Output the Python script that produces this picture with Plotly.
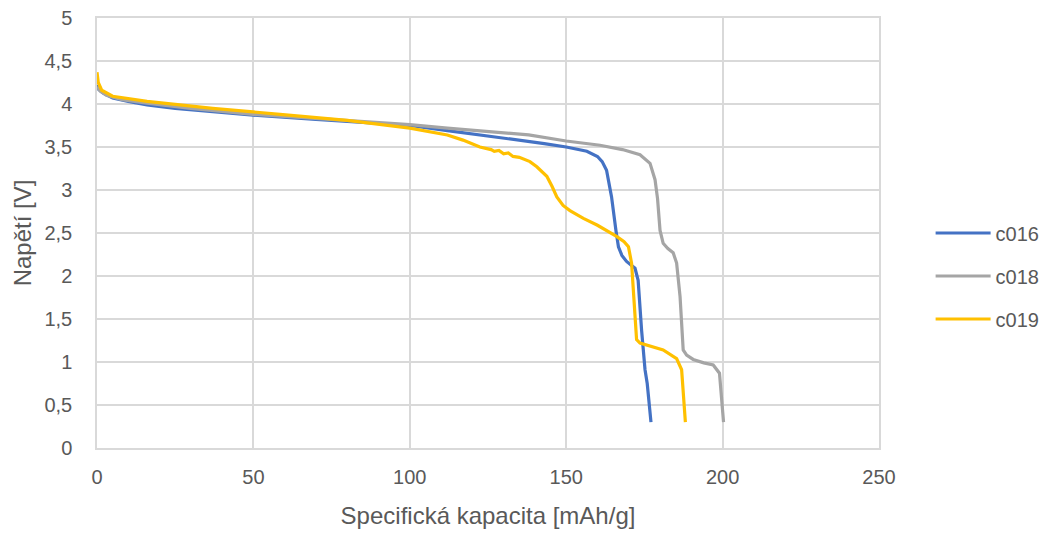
import plotly.graph_objects as go

# c016
c016_x = [0, 0.5, 1.9, 5, 10, 16, 25, 37, 50, 70, 90, 100, 112, 125, 133, 143, 150, 156.6, 160, 161.5,
          162.9, 164.5, 165.9, 166.7, 167.8, 169.3, 172, 173, 174.1, 175.2, 175.9, 177, 177.1]
c016_y = [4.22, 4.17, 4.13, 4.07, 4.03, 3.99, 3.95, 3.91, 3.87, 3.82, 3.77, 3.75, 3.69, 3.63, 3.59, 3.54, 3.50, 3.45, 3.39, 3.33,
          3.23, 2.92, 2.53, 2.34, 2.24, 2.17, 2.09, 1.95, 1.37, 0.91, 0.75, 0.33, 0.30]

# c018
c018_x = [0, 1, 3, 8, 16, 30, 50, 70, 90, 100, 112, 125, 133, 138, 150, 160.8, 168, 173.6, 176.8, 178.4,
          179.2, 180, 181, 182.5, 184.2, 185.3, 186.4, 187.4, 188.5, 190.6, 194, 197, 199, 199.7, 200.2, 200.3]
c018_y = [4.2, 4.15, 4.1, 4.05, 4.01, 3.95, 3.88, 3.83, 3.78, 3.76, 3.72, 3.68, 3.66, 3.64, 3.57, 3.52, 3.47, 3.41, 3.31, 3.12,
          2.9, 2.53, 2.38, 2.32, 2.27, 2.15, 1.76, 1.14, 1.08, 1.03, 0.99, 0.965, 0.87, 0.6, 0.33, 0.30]

# c019
c019_x = [0, 0.4, 1.5, 5, 16, 37, 58.5, 80, 100, 112, 117, 122.4, 126, 127, 128.5, 130, 131.5, 133, 135, 136.5,
          138.4, 140.6, 143.8, 145.5, 147, 149, 151.2, 155.5, 160, 166.1, 168.5, 169.9, 170.9, 172.5, 173.6,
          181, 185.3, 186.9, 188, 188.1]
c019_y = [4.37, 4.25, 4.16, 4.09, 4.03, 3.95, 3.88, 3.81, 3.72, 3.64, 3.58, 3.50, 3.47, 3.45, 3.46, 3.42, 3.43, 3.39, 3.38, 3.36,
          3.33, 3.27, 3.16, 3.04, 2.92, 2.82, 2.76, 2.67, 2.59, 2.46, 2.40, 2.34, 2.15, 1.26, 1.22,
          1.14, 1.04, 0.91, 0.33, 0.30]

series = [
    ("c016", c016_x, c016_y, "#4472C4"),
    ("c018", c018_x, c018_y, "#A5A5A5"),
    ("c019", c019_x, c019_y, "#FFC000"),
]

FONT = "Liberation Sans"
TXT = "#595959"
fig = go.Figure()
for name, xs, ys, col in series:
    fig.add_trace(go.Scatter(x=xs, y=ys, mode="lines", name=name, legendgroup=name,
                             line=dict(color=col, width=3.2)))

fig.update_layout(
    width=1047, height=534,
    margin=dict(l=97, r=168, t=18, b=86, autoexpand=False),
    paper_bgcolor="white", plot_bgcolor="white",
    separators=", ",
    font=dict(family=FONT, size=20, color=TXT),
    showlegend=True,
    legend=dict(x=1.066, y=0.40, xanchor="left", yanchor="middle",
                font=dict(family=FONT, size=20, color=TXT),
                tracegroupgap=14, itemwidth=55),
    xaxis=dict(range=[0, 250], tickvals=[0, 50, 100, 150, 200, 250],
               showgrid=True, gridcolor="#d9d9d9", gridwidth=1.5,
               zeroline=False, showline=True, linecolor="#d9d9d9", linewidth=1.5, mirror=True,
               ticks="", ticklabelstandoff=10, automargin=False,
               title=dict(text="Specifická kapacita [mAh/g]", font=dict(size=24, color=TXT), standoff=20),
               tickfont=dict(size=20, color=TXT)),
    yaxis=dict(range=[0, 5], tickvals=[0, 0.5, 1, 1.5, 2, 2.5, 3, 3.5, 4, 4.5, 5],
               showgrid=True, gridcolor="#d9d9d9", gridwidth=1.5,
               zeroline=False, showline=True, linecolor="#d9d9d9", linewidth=1.5, mirror=True,
               ticks="", ticklabelstandoff=19, automargin=False,
               title=dict(text="Napětí [V]", font=dict(size=24, color=TXT), standoff=6),
               tickfont=dict(size=20, color=TXT)),
)

fig.write_html("out.html", config={"displayModeBar": False},
               post_script="document.body.style.margin='0';")
